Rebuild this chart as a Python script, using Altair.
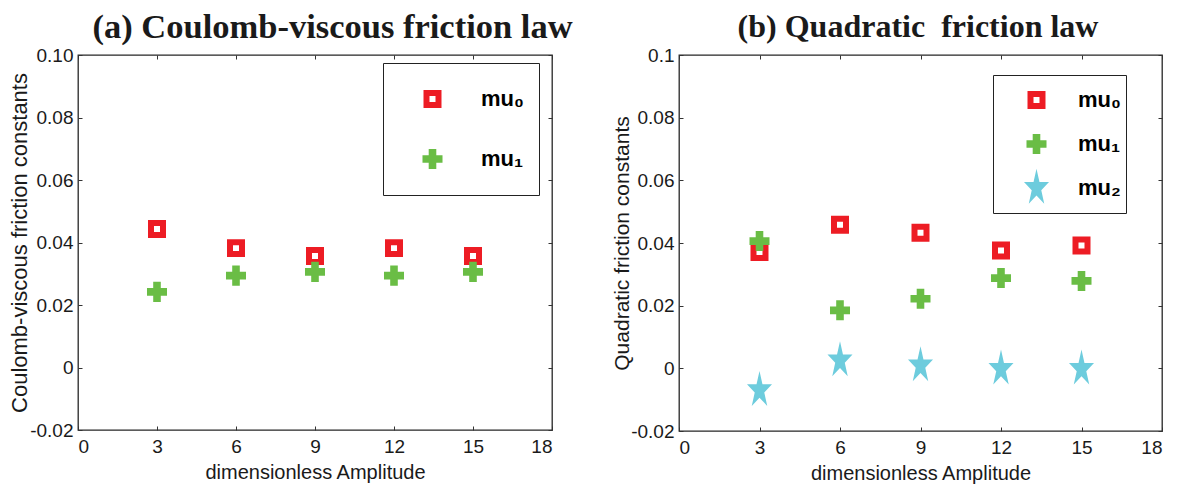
import math
import altair as alt
import pandas as pd

# ---------------- data ----------------
amplitude = [3, 6, 9, 12, 15]
a_mu0 = [0.0443, 0.0382, 0.0357, 0.0382, 0.0357]
a_mu1 = [0.0242, 0.0294, 0.0306, 0.0294, 0.0306]
b_mu0 = [0.0371, 0.0458, 0.0433, 0.0376, 0.0392]
b_mu1 = [0.0406, 0.0185, 0.0222, 0.0288, 0.0279]
b_mu2 = [-0.0070, 0.0025, 0.0009, -0.0002, -0.0002]
series_names = ["mu\u2080", "mu\u2081", "mu\u2082"]
x_ticks = [0, 3, 6, 9, 12, 15, 18]
y_ticks = [-0.02, 0, 0.02, 0.04, 0.06, 0.08, 0.1]
titles = ["(a) Coulomb-viscous friction law", "(b) Quadratic\u00a0 friction law"]
y_titles = ["Coulomb-viscous friction constants", "Quadratic friction constants"]
x_title = "dimensionless Amplitude"


def long_table(columns):
    rows = []
    for name, vals in columns:
        for a, v in zip(amplitude, vals):
            rows.append({"amp": a, "val": v, "series": name})
    return pd.DataFrame(rows)


df_a = long_table([(series_names[0], a_mu0), (series_names[1], a_mu1)])
df_b = long_table([(series_names[0], b_mu0), (series_names[1], b_mu1), (series_names[2], b_mu2)])

# ---------------- styles ----------------
RED, GREEN, CYAN = "#ED1C24", "#6ABD45", "#6DCCDD"
U = 19.35                      # px per unit of the symbol box
SIZE = (2 * U) ** 2


def fmt(v):
    return f"{v:.3f}"


def poly(pts):
    return "M" + " L".join(f"{fmt(x)},{fmt(y)}" for x, y in pts) + " Z"


s = 6 / U
SQUARE = poly([(-s, -s), (s, -s), (s, s), (-s, s)])
w, t = 10 / U, 3.8 / U
CROSS = poly([(-t, -w), (t, -w), (t, -t), (w, -t), (w, t), (t, t), (t, w), (-t, w),
              (-t, t), (-w, t), (-w, -t), (-t, -t)])
sx = 0.68
star_pts = []
for k in range(10):
    ang = math.radians(-90 + 36 * k)
    r = 1.0 if k % 2 == 0 else 0.382
    star_pts.append((sx * r * math.cos(ang), r * math.sin(ang)))
STAR = poly(star_pts)

shapes = [SQUARE, CROSS, STAR]
fills = ["white", GREEN, CYAN]
strokes = [RED, "transparent", "transparent"]

SANS = "Liberation Sans"
SERIF = "Liberation Serif"
INK = "#1a1a1a"


def panel(df, n, title, title_size, title_pad, title_dx, ytitle, ytitle_size, ytitle_pad,
          width, height, legend, yexpr):
    names = series_names[:n]
    xs = alt.Scale(domain=[0, 18], nice=False, zero=False)
    ys = alt.Scale(domain=[-0.02, 0.1], nice=False, zero=False)
    common = dict(grid=False, domain=False, tickSize=4, offset=-4, tickColor="#333",
                  labelFont=SANS, labelFontSize=19, labelColor=INK,
                  titleFont=SANS, titleFontWeight="normal", titleColor=INK)
    ax_x = alt.Axis(orient="bottom", values=x_ticks, title=x_title,
                    labelPadding=7, titlePadding=6, titleFontSize=20, **common)
    ax_y = alt.Axis(orient="left", values=y_ticks, title=ytitle, labelExpr=yexpr,
                    labelPadding=5, titlePadding=ytitle_pad, titleFontSize=ytitle_size, **common)
    pts = alt.Chart(df).mark_point(filled=True, opacity=1, size=SIZE, strokeWidth=6).encode(
        x=alt.X("amp:Q", scale=xs, axis=ax_x),
        y=alt.Y("val:Q", scale=ys, axis=ax_y),
        shape=alt.Shape("series:N", scale=alt.Scale(domain=names, range=shapes[:n]), legend=legend),
        fill=alt.Fill("series:N", scale=alt.Scale(domain=names, range=fills[:n]), legend=legend),
        stroke=alt.Stroke("series:N", scale=alt.Scale(domain=names, range=strokes[:n]), legend=legend),
    )
    tick_common = dict(grid=False, domain=False, labels=False, tickSize=4,
                       offset=-4, tickColor="#333")
    ax_top = alt.Axis(orient="top", values=x_ticks, title=title, titleFont=SERIF,
                      titleFontSize=title_size, titleFontWeight="bold", titleColor=INK,
                      titlePadding=title_pad, titleX=width / 2 + title_dx,
                      titleBaseline="bottom", **tick_common)
    ax_right = alt.Axis(orient="right", values=y_ticks, title="", **tick_common)
    ticks = alt.Chart(df).mark_point(opacity=0, size=1).encode(
        x=alt.X("amp:Q", scale=xs, axis=ax_top),
        y=alt.Y("val:Q", scale=ys, axis=ax_right),
    )
    return alt.layer(pts, ticks).resolve_axis(x="independent", y="independent").properties(
        width=width, height=height)


def make_legend(x, y, pad, clip, row_pad, sym_off, lab_off):
    return alt.Legend(title=None, orient="none", legendX=x, legendY=y, padding=pad,
                      clipHeight=clip, rowPadding=row_pad, symbolOffset=sym_off,
                      labelOffset=lab_off,
                      labelFont=SANS, labelFontSize=22, labelFontWeight="bold",
                      labelColor="black", strokeColor="#222", fillColor="white",
                      symbolSize=SIZE, symbolStrokeWidth=6)


left = panel(
    df_a, 2, titles[0], 34.5, 10, 17, y_titles[0], 22, -2, 474, 375,
    make_legend(305, 8, 15, 42, 18, 12, 26),
    "datum.value == 0 ? '0' : (datum.value < 0 ? '-' : '') + format(abs(datum.value), '.2f')",
)
right = panel(
    df_b, 3, titles[1], 32, 11, -3, y_titles[1], 21, -2, 483, 376,
    make_legend(314, 20, 5, 40, 4, 16, 19),
    "datum.value == 0 ? '0' : (datum.value < 0 ? '-' : '') + format(abs(datum.value), '.2~f')",
)

chart = (
    alt.hconcat(left, right, spacing=38)
    .resolve_scale(shape="independent", fill="independent", stroke="independent",
                   x="independent", y="independent")
    .resolve_legend(shape="independent", fill="independent", stroke="independent")
    .properties(padding=0, background="white")
    .configure_view(stroke="#262626", strokeWidth=1.3)
)

chart.save("out.html", embed_options={"renderer": "svg", "actions": False})
